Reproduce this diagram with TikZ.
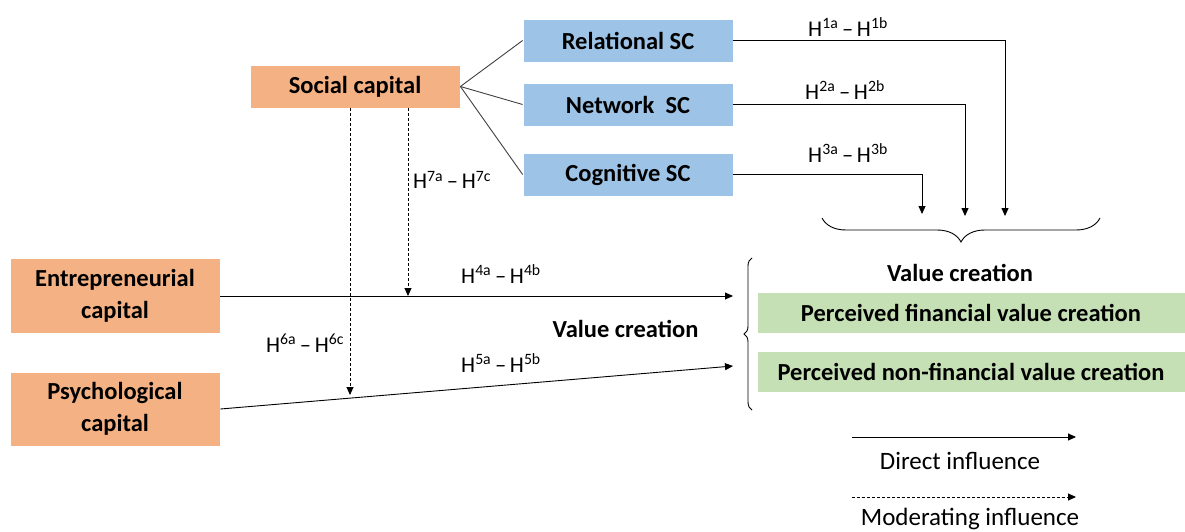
\documentclass[tikz,border=0pt]{standalone}
\usepackage{fontspec}
\setmainfont{Carlito}
\usetikzlibrary{arrows.meta,decorations.pathreplacing}
\definecolor{orng}{HTML}{F4B183}
\definecolor{blu}{HTML}{9DC3E6}
\definecolor{grn}{HTML}{C5E0B4}
\tikzset{
  box/.style={draw=white,line width=0.8pt,inner sep=0pt,font=\fontsize{24.5}{32}\selectfont\bfseries,align=center},
  orbox/.style={box,fill=orng},
  blbox/.style={box,fill=blu,minimum width=210pt,minimum height=43pt},
  grbox/.style={box,fill=grn,minimum width=428pt,minimum height=41pt},
  hlab/.style={font=\fontsize{22.5}{25}\selectfont},
  lgd/.style={font=\fontsize{25}{28}\selectfont},
  arr/.style={-{Triangle[length=8pt,width=7pt]},line width=0.9pt},
  darr/.style={arr,dashed,dash pattern=on 3pt off 2pt},
  brc/.style={decorate,line width=0.9pt}
}
\newcommand{\hh}[3]{H\textsuperscript{#1#2}\,–\,H\textsuperscript{#1#3}}
\begin{document}
\begin{tikzpicture}[x=1pt,y=-1pt]
\useasboundingbox (0,0) rectangle (1185,532);
% nodes
\node[orbox,minimum width=210pt,minimum height=43pt] (sc) at (355,86.5) {Social capital};
\node[blbox] (rel) at (628,40.5) {Relational SC};
\node[blbox] (net) at (628,104.5) {Network\ \ SC};
\node[blbox] (cog) at (628,174.5) {Cognitive SC};
\node[orbox,minimum width=210pt,minimum height=75pt] (ent) at (115,295.5) {Entrepreneurial\\capital};
\node[orbox,minimum width=210pt,minimum height=74pt] (psy) at (115,409) {Psychological\\capital};
\node[grbox] (fin) at (971,312.5) {Perceived financial value creation};
\node[grbox] (nfin) at (971,371.5) {Perceived non-financial value creation};
\node[font=\fontsize{24.5}{28}\selectfont\bfseries] (vc1) at (960,273) {Value creation};
\node[font=\fontsize{24.5}{28}\selectfont\bfseries,anchor=east] (vc2) at (702,329) {Value creation};
% SC lines
\draw[line width=0.9pt,black!75] (sc.east) -- (rel.west);
\draw[line width=0.9pt,black!75] (sc.east) -- (net.west);
\draw[line width=0.9pt,black!75] (sc.east) -- (cog.west);
% coordinates for targets
\coordinate (t1) at (1005,216);
\coordinate (t2) at (965,216);
\coordinate (t3) at (922,214);
\coordinate (t4) at (733,296);
\coordinate (t5) at (733,366);
\coordinate (m7) at (408,296);
\coordinate (m6) at (350,395);
\coordinate (s7) at (408,108);
\coordinate (s6) at (350,108);
% arrows from SC subtypes
\draw[arr] (rel.east) -| (t1);
\draw[arr] (net.east) -| (t2);
\draw[arr] (cog.east) -| (t3);
\node[hlab] (h1) at (848,27) {\hh{1}{a}{b}};
\node[hlab] (h2) at (845,90) {\hh{2}{a}{b}};
\node[hlab] (h3) at (848,153) {\hh{3}{a}{b}};
% main arrows
\draw[arr] (ent.east |- t4) -- (t4);
\draw[arr] (psy.east) -- (t5);
\node[hlab] (h4) at (501,274) {\hh{4}{a}{b}};
\node[hlab] (h5) at (501,363) {\hh{5}{a}{b}};
% moderating
\draw[darr] (s7) -- (m7);
\draw[darr] (s6) -- (m6);
\node[hlab] (h7) at (452,180) {\hh{7}{a}{c}};
\node[hlab] (h6) at (305,343) {\hh{6}{a}{c}};
% braces
\draw[brc,decoration={brace,amplitude=8pt,aspect=0.5}] (752,410) -- (752,258);
\draw[brc,decoration={brace,amplitude=24pt,aspect=0.5}] (1100,218) -- (822,218);
% legend
\coordinate (l1a) at (852,437);
\coordinate (l1b) at (1076,437);
\coordinate (l2a) at (852,497);
\coordinate (l2b) at (1076,497);
\draw[arr] (l1a) -- (l1b);
\draw[darr] (l2a) -- (l2b);
\node[lgd] (ld) at (960,461) {Direct influence};
\node[lgd] (lm) at (970,519) {Moderating influence};
\end{tikzpicture}
\end{document}
